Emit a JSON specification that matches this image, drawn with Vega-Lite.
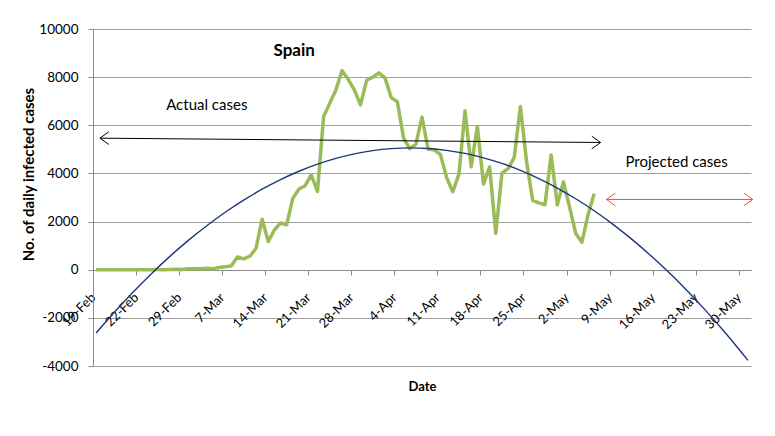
{
  "$schema": "https://vega.github.io/schema/vega-lite/v6.json",
  "width": 658,
  "height": 337,
  "autosize": {"type": "none"},
  "padding": {"left": 93, "top": 29, "right": 24, "bottom": 70},
  "background": "white",
  "config": {"view": {"stroke": null}, "font": "Lato"},
  "datasets": {
    "actual": [
      {"date": "2020-02-15T12:00:00", "value": 0},
      {"date": "2020-02-16T12:00:00", "value": 0},
      {"date": "2020-02-17T12:00:00", "value": 0},
      {"date": "2020-02-18T12:00:00", "value": 0},
      {"date": "2020-02-19T12:00:00", "value": 0},
      {"date": "2020-02-20T12:00:00", "value": 0},
      {"date": "2020-02-21T12:00:00", "value": 0},
      {"date": "2020-02-22T12:00:00", "value": 0},
      {"date": "2020-02-23T12:00:00", "value": 0},
      {"date": "2020-02-24T12:00:00", "value": 0},
      {"date": "2020-02-25T12:00:00", "value": 4},
      {"date": "2020-02-26T12:00:00", "value": 3},
      {"date": "2020-02-27T12:00:00", "value": 8},
      {"date": "2020-02-28T12:00:00", "value": 17},
      {"date": "2020-02-29T12:00:00", "value": 13},
      {"date": "2020-03-01T12:00:00", "value": 39},
      {"date": "2020-03-02T12:00:00", "value": 36},
      {"date": "2020-03-03T12:00:00", "value": 45},
      {"date": "2020-03-04T12:00:00", "value": 57},
      {"date": "2020-03-05T12:00:00", "value": 37},
      {"date": "2020-03-06T12:00:00", "value": 90},
      {"date": "2020-03-07T12:00:00", "value": 120},
      {"date": "2020-03-08T12:00:00", "value": 160},
      {"date": "2020-03-09T12:00:00", "value": 530},
      {"date": "2020-03-10T12:00:00", "value": 450},
      {"date": "2020-03-11T12:00:00", "value": 560},
      {"date": "2020-03-12T12:00:00", "value": 880},
      {"date": "2020-03-13T12:00:00", "value": 2100},
      {"date": "2020-03-14T12:00:00", "value": 1170},
      {"date": "2020-03-15T12:00:00", "value": 1650},
      {"date": "2020-03-16T12:00:00", "value": 1940},
      {"date": "2020-03-17T12:00:00", "value": 1870},
      {"date": "2020-03-18T12:00:00", "value": 2970},
      {"date": "2020-03-19T12:00:00", "value": 3350},
      {"date": "2020-03-20T12:00:00", "value": 3490},
      {"date": "2020-03-21T12:00:00", "value": 3940},
      {"date": "2020-03-22T12:00:00", "value": 3250},
      {"date": "2020-03-23T12:00:00", "value": 6360},
      {"date": "2020-03-24T12:00:00", "value": 6920},
      {"date": "2020-03-25T12:00:00", "value": 7470},
      {"date": "2020-03-26T12:00:00", "value": 8270},
      {"date": "2020-03-27T12:00:00", "value": 7910},
      {"date": "2020-03-28T12:00:00", "value": 7470},
      {"date": "2020-03-29T12:00:00", "value": 6850},
      {"date": "2020-03-30T12:00:00", "value": 7870},
      {"date": "2020-03-31T12:00:00", "value": 8000},
      {"date": "2020-04-01T12:00:00", "value": 8180},
      {"date": "2020-04-02T12:00:00", "value": 7960},
      {"date": "2020-04-03T12:00:00", "value": 7150},
      {"date": "2020-04-04T12:00:00", "value": 6980},
      {"date": "2020-04-05T12:00:00", "value": 5470},
      {"date": "2020-04-06T12:00:00", "value": 5030},
      {"date": "2020-04-07T12:00:00", "value": 5210},
      {"date": "2020-04-08T12:00:00", "value": 6340},
      {"date": "2020-04-09T12:00:00", "value": 5000},
      {"date": "2020-04-10T12:00:00", "value": 4980},
      {"date": "2020-04-11T12:00:00", "value": 4780},
      {"date": "2020-04-12T12:00:00", "value": 3830},
      {"date": "2020-04-13T12:00:00", "value": 3240},
      {"date": "2020-04-14T12:00:00", "value": 3960},
      {"date": "2020-04-15T12:00:00", "value": 6600},
      {"date": "2020-04-16T12:00:00", "value": 4280},
      {"date": "2020-04-17T12:00:00", "value": 5950},
      {"date": "2020-04-18T12:00:00", "value": 3560},
      {"date": "2020-04-19T12:00:00", "value": 4270},
      {"date": "2020-04-20T12:00:00", "value": 1510},
      {"date": "2020-04-21T12:00:00", "value": 4010},
      {"date": "2020-04-22T12:00:00", "value": 4200},
      {"date": "2020-04-23T12:00:00", "value": 4670},
      {"date": "2020-04-24T12:00:00", "value": 6780},
      {"date": "2020-04-25T12:00:00", "value": 4500},
      {"date": "2020-04-26T12:00:00", "value": 2880},
      {"date": "2020-04-27T12:00:00", "value": 2780},
      {"date": "2020-04-28T12:00:00", "value": 2700},
      {"date": "2020-04-29T12:00:00", "value": 4770},
      {"date": "2020-04-30T12:00:00", "value": 2700},
      {"date": "2020-05-01T12:00:00", "value": 3650},
      {"date": "2020-05-02T12:00:00", "value": 2600},
      {"date": "2020-05-03T12:00:00", "value": 1500},
      {"date": "2020-05-04T12:00:00", "value": 1140},
      {"date": "2020-05-05T12:00:00", "value": 2280},
      {"date": "2020-05-06T12:00:00", "value": 3160}
    ],
    "projected": [
      {"date": "2020-02-15T12:00:00", "value": -2630},
      {"date": "2020-02-18T12:00:00", "value": -1755},
      {"date": "2020-02-21T12:00:00", "value": -932},
      {"date": "2020-02-24T12:00:00", "value": -163},
      {"date": "2020-02-27T12:00:00", "value": 554},
      {"date": "2020-03-01T12:00:00", "value": 1218},
      {"date": "2020-03-04T12:00:00", "value": 1828},
      {"date": "2020-03-07T12:00:00", "value": 2387},
      {"date": "2020-03-10T12:00:00", "value": 2892},
      {"date": "2020-03-13T12:00:00", "value": 3344},
      {"date": "2020-03-16T12:00:00", "value": 3744},
      {"date": "2020-03-19T12:00:00", "value": 4090},
      {"date": "2020-03-22T12:00:00", "value": 4384},
      {"date": "2020-03-25T12:00:00", "value": 4625},
      {"date": "2020-03-28T12:00:00", "value": 4813},
      {"date": "2020-03-31T12:00:00", "value": 4948},
      {"date": "2020-04-03T12:00:00", "value": 5030},
      {"date": "2020-04-06T12:00:00", "value": 5060},
      {"date": "2020-04-09T12:00:00", "value": 5037},
      {"date": "2020-04-12T12:00:00", "value": 4960},
      {"date": "2020-04-15T12:00:00", "value": 4831},
      {"date": "2020-04-18T12:00:00", "value": 4649},
      {"date": "2020-04-21T12:00:00", "value": 4415},
      {"date": "2020-04-24T12:00:00", "value": 4127},
      {"date": "2020-04-27T12:00:00", "value": 3786},
      {"date": "2020-04-30T12:00:00", "value": 3393},
      {"date": "2020-05-03T12:00:00", "value": 2947},
      {"date": "2020-05-06T12:00:00", "value": 2448},
      {"date": "2020-05-09T12:00:00", "value": 1896},
      {"date": "2020-05-12T12:00:00", "value": 1291},
      {"date": "2020-05-15T12:00:00", "value": 633},
      {"date": "2020-05-18T12:00:00", "value": -78},
      {"date": "2020-05-21T12:00:00", "value": -841},
      {"date": "2020-05-24T12:00:00", "value": -1657},
      {"date": "2020-05-27T12:00:00", "value": -2526},
      {"date": "2020-05-30T12:00:00", "value": -3448},
      {"date": "2020-05-31T12:00:00", "value": -3768}
    ],
    "arrows": [
      {"kind": "actual", "date": "2020-02-16T03:00:00", "date2": "2020-05-07T13:00:00", "value": 5465, "value2": 5285},
      {"kind": "projected", "date": "2020-05-08T12:00:00", "date2": "2020-06-01T06:30:00", "value": 2920, "value2": 2920}
    ],
    "notes": [
      {"date": "2020-03-04T12:00:00", "value": 6850, "label": "Actual cases"},
      {"date": "2020-05-19T21:30:00", "value": 4480, "label": "Projected cases"}
    ],
    "heading": [
      {"date": "2020-03-18T17:00:00", "value": 9070, "label": "Spain"}
    ]
  },
  "encoding": {
    "x": {
      "field": "date",
      "type": "temporal",
      "scale": {"domain": [{"year": 2020, "month": "Feb", "date": 15}, {"year": 2020, "month": "Jun", "date": 1}]},
      "axis": {
        "title": "Date",
        "titleFont": "Lato",
        "titleFontSize": 13,
        "titleFontWeight": "bold",
        "titleColor": "#000000",
        "titleY": 110,
        "titleBaseline": "top",
        "values": [
          {"year": 2020, "month": "Feb", "date": 15},
          {"year": 2020, "month": "Feb", "date": 22},
          {"year": 2020, "month": "Feb", "date": 29},
          {"year": 2020, "month": "Mar", "date": 7},
          {"year": 2020, "month": "Mar", "date": 14},
          {"year": 2020, "month": "Mar", "date": 21},
          {"year": 2020, "month": "Mar", "date": 28},
          {"year": 2020, "month": "Apr", "date": 4},
          {"year": 2020, "month": "Apr", "date": 11},
          {"year": 2020, "month": "Apr", "date": 18},
          {"year": 2020, "month": "Apr", "date": 25},
          {"year": 2020, "month": "May", "date": 2},
          {"year": 2020, "month": "May", "date": 9},
          {"year": 2020, "month": "May", "date": 16},
          {"year": 2020, "month": "May", "date": 23},
          {"year": 2020, "month": "May", "date": 30}
        ],
        "format": "%-d-%b",
        "labelExpr": "timeFormat(datum.value, '%d%m') == '1502' ? '19-Feb' : datum.label",
        "labelAngle": -45,
        "labelAlign": "right",
        "labelBaseline": "middle",
        "labelPadding": 20,
        "labelFont": "Lato",
        "labelFontSize": 13,
        "labelColor": "#000000",
        "labelOverlap": false,
        "labelFlush": false,
        "labelBound": false,
        "grid": false,
        "tickSize": 5,
        "tickColor": "#8c8c8c",
        "domainColor": "#8c8c8c",
        "offset": -96
      }
    },
    "y": {
      "field": "value",
      "type": "quantitative",
      "scale": {"domain": [-4000, 10000], "nice": false, "zero": false},
      "axis": {
        "title": "No. of daily  infected cases",
        "titleFont": "Lato",
        "titleFontSize": 15,
        "titleFontWeight": "bold",
        "titleColor": "#000000",
        "titleX": -65,
        "titleY": 145,
        "titleAngle": -90,
        "titleAlign": "center",
        "titleBaseline": "middle",
        "values": [-4000, -2000, 0, 2000, 4000, 6000, 8000, 10000],
        "labelExpr": "'' + datum.value",
        "labelFont": "Lato",
        "labelFontSize": 13.5,
        "labelColor": "#000000",
        "labelPadding": 10,
        "grid": true,
        "gridColor": "#a0a0a0",
        "gridWidth": 1.2,
        "tickSize": 5,
        "tickColor": "#8c8c8c",
        "domainColor": "#8c8c8c"
      }
    }
  },
  "layer": [
    {
      "data": {"name": "actual"},
      "mark": {"type": "line", "color": "#9bbb59", "strokeWidth": 3.5, "strokeJoin": "round"}
    },
    {
      "data": {"name": "projected"},
      "mark": {"type": "line", "color": "#1c3878", "strokeWidth": 1.4, "interpolate": "monotone"}
    },
    {
      "data": {"name": "arrows"},
      "mark": {"type": "rule", "strokeWidth": 1, "clip": false},
      "encoding": {
        "x2": {"field": "date2"},
        "y2": {"field": "value2"},
        "color": {"field": "kind", "type": "nominal", "scale": {"domain": ["actual", "projected"], "range": ["#000000", "#d9534f"]}, "legend": null}
      }
    },
    {
      "data": {"name": "arrows"},
      "mark": {"type": "point", "shape": "M1.4,-1L0,0L1.4,1", "size": 160, "filled": false, "strokeWidth": 1, "opacity": 1, "clip": false},
      "encoding": {
        "color": {"field": "kind", "type": "nominal", "scale": {"domain": ["actual", "projected"], "range": ["#000000", "#d9534f"]}, "legend": null}
      }
    },
    {
      "data": {"name": "arrows"},
      "mark": {"type": "point", "shape": "M-1.4,-1L0,0L-1.4,1", "size": 160, "filled": false, "strokeWidth": 1, "opacity": 1, "clip": false},
      "encoding": {
        "x": {"field": "date2", "type": "temporal", "scale": {"domain": [{"year": 2020, "month": "Feb", "date": 15}, {"year": 2020, "month": "Jun", "date": 1}]}},
        "y": {"field": "value2", "type": "quantitative", "scale": {"domain": [-4000, 10000], "nice": false, "zero": false}},
        "color": {"field": "kind", "type": "nominal", "scale": {"domain": ["actual", "projected"], "range": ["#000000", "#d9534f"]}, "legend": null}
      }
    },
    {
      "data": {"name": "notes"},
      "mark": {"type": "text", "font": "Lato", "fontSize": 15, "color": "#000000", "align": "center", "baseline": "middle"},
      "encoding": {"text": {"field": "label"}}
    },
    {
      "data": {"name": "heading"},
      "mark": {"type": "text", "font": "Lato", "fontSize": 17, "fontWeight": "bold", "color": "#000000", "align": "center", "baseline": "middle"},
      "encoding": {"text": {"field": "label"}}
    }
  ]
}
